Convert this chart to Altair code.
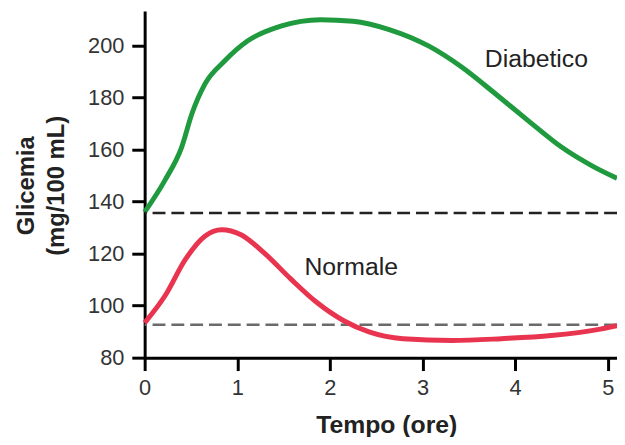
import altair as alt
import pandas as pd

# Diabetic curve (hours, mg/100 mL)
diab_t = [0.0, 0.22, 0.40, 0.51, 0.65, 0.86, 1.11, 1.47, 1.90, 2.25, 2.64, 3.07, 3.43, 3.79, 4.14, 4.50, 4.85, 5.10]
diab_v = [136.0, 148.3, 161.0, 173.8, 185.2, 194.0, 201.8, 207.5, 210.0, 209.4, 206.2, 199.8, 191.6, 181.4, 171.2, 161.0, 153.4, 149.0]

# Normal curve
norm_t = [0.0, 0.22, 0.44, 0.65, 0.83, 1.04, 1.29, 1.58, 1.86, 2.15, 2.43, 2.79, 3.32, 3.85, 4.39, 4.92, 5.10]
norm_v = [93.4, 103.8, 117.8, 126.7, 129.2, 127.3, 120.3, 110.2, 101.2, 94.2, 89.8, 87.3, 86.6, 87.3, 88.5, 91.0, 92.3]

# Fasting baselines
base_names = ["Diabetico", "Normale"]
base_values = [135.6, 92.7]
base_colors = ["#222222", "#6a6a6a"]

# Labels
label_text = ["Diabetico", "Normale"]
label_t = [4.23, 2.23]
label_v = [194.7, 115.0]

x_ticks = [0, 1, 2, 3, 4, 5]
y_ticks = [80, 100, 120, 140, 160, 180, 200]

FONT = "Liberation Sans"

df_d = pd.DataFrame({"t": diab_t, "v": diab_v})
df_n = pd.DataFrame({"t": norm_t, "v": norm_v})
df_lab = pd.DataFrame({"label": label_text, "t": label_t, "v": label_v})

xscale = alt.Scale(domain=[0, 5.1], nice=False, zero=False)
yscale = alt.Scale(domain=[80, 213.3], nice=False, zero=False)

x_enc = alt.X(
    "t:Q", scale=xscale,
    axis=alt.Axis(
        values=x_ticks, title="Tempo (ore)", format="d",
        domainColor="black", domainWidth=3, tickColor="black", tickWidth=3,
        tickSize=13, labelPadding=7, labelFontSize=22, labelColor="#333333",
        labelFont=FONT, titleFont=FONT, titleFontSize=25, titleFontWeight="bold",
        titleColor="#222222", titleX=244, titleY=76, titleBaseline="alphabetic",
        titleAlign="center", titleAnchor="start", grid=False, labelFlush=False,
    ),
)
y_enc = alt.Y(
    "v:Q", scale=yscale,
    axis=alt.Axis(
        values=y_ticks, title=["Glicemia", "(mg/100 mL)"], format="d",
        domainColor="black", domainWidth=3, tickColor="black", tickWidth=3,
        tickSize=13, labelPadding=8, labelFontSize=22, labelColor="#333333",
        labelFont=FONT, titleFont=FONT, titleFontSize=24, titleFontWeight="bold",
        titleColor="#222222", titleAngle=270, titleX=-119, titleY=176,
        titleAlign="center", titleBaseline="middle", titleLineHeight=30,
        titleAnchor="start", grid=False, labelFlush=False,
    ),
)

rules = []
for name, val, col in zip(base_names, base_values, base_colors):
    rules.append(
        alt.Chart(pd.DataFrame({"v": [val]}))
        .mark_rule(color=col, strokeWidth=2.5, strokeDash=[13, 6])
        .encode(y=alt.Y("v:Q", scale=yscale))
    )

line_d = alt.Chart(df_d).mark_line(color="#1f9a3e", strokeWidth=5, interpolate="monotone").encode(x=x_enc, y=y_enc)
line_n = alt.Chart(df_n).mark_line(color="#e8344f", strokeWidth=5, interpolate="monotone").encode(
    x=alt.X("t:Q", scale=xscale), y=alt.Y("v:Q", scale=yscale)
)
texts = alt.Chart(df_lab).mark_text(font=FONT, fontSize=25, color="#222222").encode(
    x=alt.X("t:Q", scale=xscale), y=alt.Y("v:Q", scale=yscale), text="label:N"
)

chart = alt.layer(line_d, *rules, line_n, texts).properties(
    width=477, height=350,
    autosize=alt.AutoSizeParams(type="none"),
    padding={"left": 138, "top": 1, "right": 0, "bottom": 78},
).configure_view(stroke=None)

chart.save("out.html", embed_options={"renderer": "svg", "actions": False})
